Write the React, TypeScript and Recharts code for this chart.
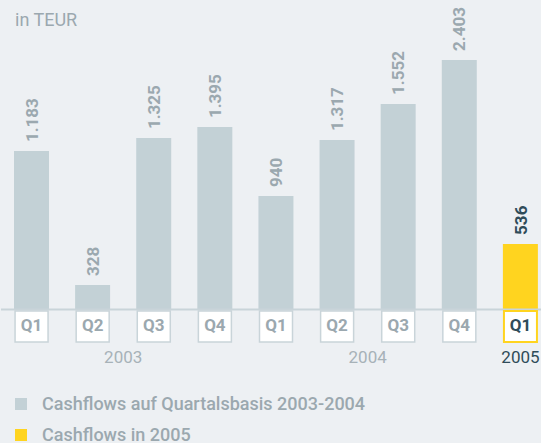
import React from "react";
import { BarChart, Bar, XAxis, YAxis, Cell, LabelList, Legend } from "recharts";

// quarter / year categories
const quarters = ["Q1", "Q2", "Q3", "Q4", "Q1", "Q2", "Q3", "Q4", "Q1"];
const years = ["2003", "2003", "2003", "2003", "2004", "2004", "2004", "2004", "2005"];
// printed cash flow values (TEUR)
const cashflows = [1183, 328, 1325, 1395, 940, 1317, 1552, 2403, 536];
// the original is not drawn to scale: bar lengths as drawn, in % of the tallest bar
const drawnHeights = [63.5, 9.8, 68.7, 73.1, 45.5, 67.9, 82.4, 100, 26.3];
const legendLabels = ["Cashflows auf Quartalsbasis 2003-2004", "Cashflows in 2005"];
const currentYear = "2005";

const BG = "#edf0f3";
const GREY_BAR = "#c3d1d6";
const YELLOW = "#ffd41f";
const GREY_TEXT = "#9ba8af";
const DARK_TEXT = "#2f4c59";
const LINE = "#c9d4d9";
const FONT = "Roboto, 'Noto Sans', sans-serif";

const fmt = (n: number) => String(n).replace(/\B(?=(\d{3})+(?!\d))/g, ".");

const data = quarters.map((q, i) => ({
  id: `${years[i]}-${q}`,
  idx: i,
  quarter: q,
  year: years[i],
  value: cashflows[i],
  height: drawnHeights[i],
}));

const yearList = Array.from(new Set(years));
const yearCenters = yearList.map((y) => {
  const idxs = data.filter((d) => d.year === y).map((d) => d.idx);
  return idxs.reduce((a, b) => a + b, 0) / idxs.length;
});

const isCurrent = (i: number) => years[i] === currentYear;

const QuarterTick = (props: any) => {
  const { x, y, payload } = props;
  const i = payload.index;
  const hi = isCurrent(i);
  return (
    <g>
      <rect
        x={x - 16.5}
        y={y + 1.5}
        width={33}
        height={31}
        fill="#ffffff"
        stroke={hi ? YELLOW : LINE}
        strokeWidth={hi ? 2 : 1.5}
      />
      <text
        x={x}
        y={y + 21.5}
        textAnchor="middle"
        fontFamily={FONT}
        fontWeight={700}
        fontSize={17}
        fill={hi ? DARK_TEXT : GREY_TEXT}
      >
        {quarters[i]}
      </text>
    </g>
  );
};

const YearTick = (props: any) => {
  const { x, y, payload } = props;
  const k = yearCenters.indexOf(payload.value);
  const label = yearList[k];
  return (
    <text
      x={x}
      y={y + 13.5}
      textAnchor="middle"
      fontFamily={FONT}
      fontSize={17}
      fill={label === currentYear ? DARK_TEXT : "#a7b2b8"}
    >
      {label}
    </text>
  );
};

const ValueLabel = (props: any) => {
  const { x, y, width, index } = props;
  const cx = x + width / 2;
  const top = y - 9;
  return (
    <text
      transform={`translate(${cx},${top}) rotate(-90)`}
      textAnchor="start"
      dy="0.36em"
      fontFamily={FONT}
      fontWeight={700}
      fontSize={17}
      fill={isCurrent(index) ? DARK_TEXT : GREY_TEXT}
    >
      {fmt(cashflows[index])}
    </text>
  );
};

const LegendBox = () => (
  <div style={{ fontFamily: FONT }}>
    {legendLabels.map((l, i) => (
      <div key={l} style={{ display: "flex", alignItems: "center", height: 31 }}>
        <span
          style={{
            width: 12,
            height: 12,
            background: i === 0 ? GREY_BAR : YELLOW,
            marginRight: 15,
          }}
        />
        <span style={{ fontSize: 18, lineHeight: "20px", fontWeight: 500, color: GREY_TEXT }}>{l}</span>
      </div>
    ))}
  </div>
);

export default function App() {
  return (
    <div
      style={{
        position: "fixed",
        left: 0,
        top: 0,
        width: 541,
        height: 443,
        overflow: "hidden",
        background: BG,
      }}
    >
      <div
        style={{
          position: "absolute",
          left: 15,
          top: 11,
          fontFamily: FONT,
          fontSize: 18,
          lineHeight: "18px",
          color: GREY_TEXT,
        }}
      >
        in TEUR
      </div>
      <BarChart
        width={551}
        height={443}
        data={data}
        margin={{ top: 60, right: 0, left: 1, bottom: 63.5 }}
        barSize={35}
      >
        <XAxis
          xAxisId="q"
          dataKey="id"
          height={40}
          interval={0}
          tickSize={0}
          tickMargin={0}
          tickLine={false}
          axisLine={{ stroke: LINE, strokeWidth: 2 }}
          tick={<QuarterTick />}
        />
        <XAxis
          xAxisId="year"
          dataKey="idx"
          type="number"
          domain={[-0.5, quarters.length - 0.5]}
          ticks={yearCenters}
          interval={0}
          height={30}
          tickSize={0}
          tickMargin={0}
          tickLine={false}
          axisLine={false}
          tick={<YearTick />}
        />
        <YAxis hide domain={[0, 100]} />
        <Legend
          layout="vertical"
          align="center"
          verticalAlign="middle"
          content={<LegendBox />}
          wrapperStyle={{ left: 15, top: 388, width: 400 }}
        />
        <Bar xAxisId="q" dataKey="height" isAnimationActive={false}>
          {data.map((d) => (
            <Cell key={d.id} fill={d.year === currentYear ? YELLOW : GREY_BAR} />
          ))}
          <LabelList dataKey="value" content={<ValueLabel />} />
        </Bar>
      </BarChart>
    </div>
  );
}
